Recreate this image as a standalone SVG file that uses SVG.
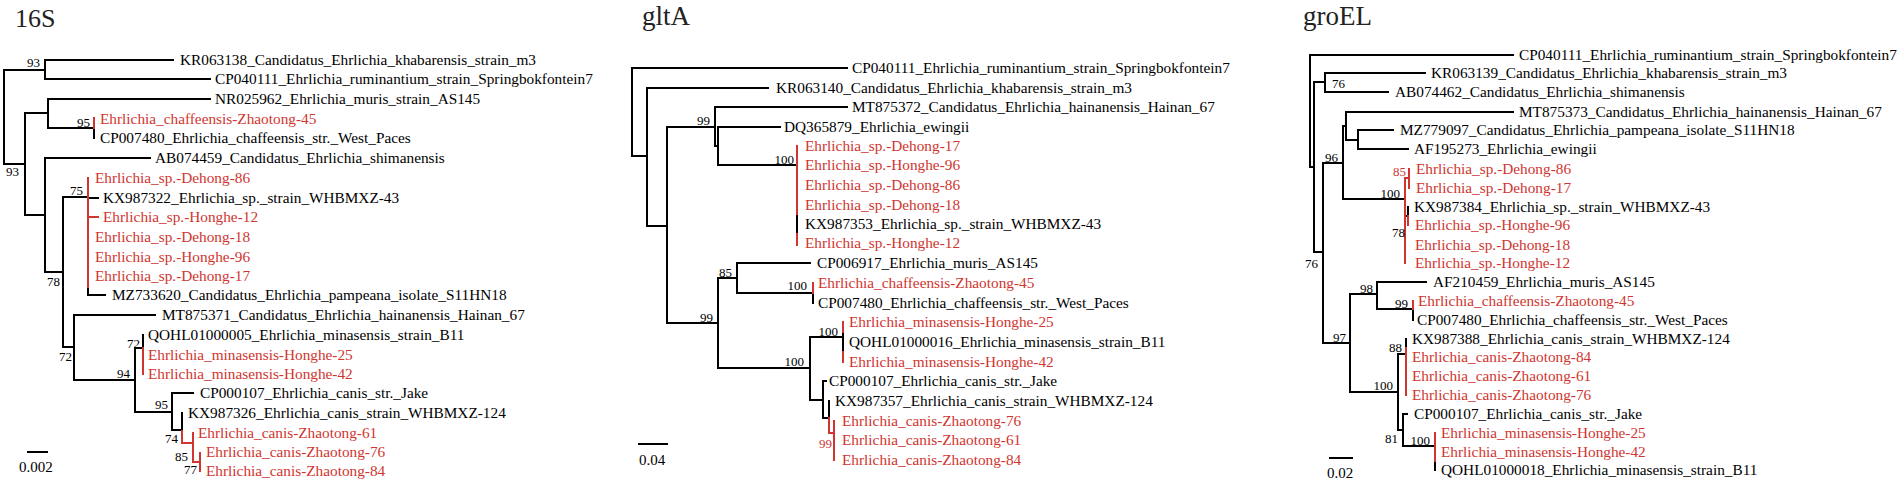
<svg xmlns="http://www.w3.org/2000/svg" width="1902" height="482" viewBox="0 0 1902 482">
<style>
.k{stroke:#000;stroke-width:2;fill:none;stroke-linecap:square}
.r{stroke:#d0352f;stroke-width:2;fill:none;stroke-linecap:square}
text{font-family:"Liberation Serif","Times New Roman",serif;fill:#000}
.l{font-size:15.3px}
.lr{font-size:15.3px;fill:#d0352f}
.s{font-size:13px;text-anchor:end}
.sr{font-size:13px;text-anchor:end;fill:#d0352f}
.t{font-size:27px;fill:#222}
.sc{font-size:15px}
</style>
<rect width="1902" height="482" fill="#fff"/>
<g id="titles">
<text class="t" x="15" y="27" style="font-size:26px">16S</text>
<text class="t" x="642" y="25">gltA</text>
<text class="t" x="1303" y="25">groEL</text>
</g>
<g id="connectors">
<!-- 16S -->
<path class="k" d="M4,70V164M4,70H45M45,60V79M45,60H173M45,79H210M4,164H25M25,113V215M25,113H48M48,99V128M48,99H210M48,128H94M94,128V138M25,215H45M45,158V272M45,158H150M45,272H63M63,197V347M63,197H88M88,287V295M88,295H105M88,198H98M63,347H74M74,315V380M74,315H155M74,380H135M135,348V412M135,348H143M143,335V348M135,412H172M172,393V430M172,393H193M172,430H182M182,413V431M28,452H47"/>
<path class="r" d="M94,118V128M88,178V287M88,217H98M143,348V374M182,431V443M182,443H193M193,433V462M193,462H200M200,453V471"/>
<!-- gltA -->
<path class="k" d="M632,68V156M632,68H847M632,156H647M647,88V226M647,88H768M647,226H667M667,127V323M667,127H715M715,107V146M715,107H847M715,146H718M718,127V165M718,127H780M718,165H797M797,214V234M667,323H718M718,278V368M718,278H737M737,263V293M737,263H810M737,293H813M813,293V303M718,368H810M810,337V400M810,337H843M843,332V352M810,400H823M823,381V418M823,381H826M823,418H829M829,401V418M639,444H667"/>
<path class="r" d="M797,146V214M797,234V245M813,283V293M843,322V332M843,352V362M829,418V433M829,433H834M834,421V460"/>
<!-- groEL -->
<path class="k" d="M1310,55V167M1310,55H1513M1310,167H1314M1314,82V252M1314,82H1325M1325,73V92M1325,73H1425M1325,92H1388M1314,252H1323M1323,163V343M1323,163H1343M1343,126V199M1343,126H1346M1346,112V140M1346,112H1513M1346,140H1358M1358,130V149M1358,130H1393M1358,149H1408M1343,199H1405M1405,216H1408M1408,207V216M1323,343H1350M1350,294V392M1350,294H1377M1377,282V309M1377,282H1426M1377,309H1413M1413,309V320M1350,392H1398M1398,354V430M1398,354H1406M1406,339V348M1398,430H1403M1403,414V446M1403,414H1407M1403,446H1435M1435,461V470M1330,458H1352"/>
<path class="r" d="M1405,178V263M1405,178H1409M1409,169V188M1408,216V225M1413,301V309M1406,348V395M1435,433V461"/>
</g>
<g id="panel-16S">
<g id="a1"><text class="l" x="180" y="65">KR063138_Candidatus_Ehrlichia_khabarensis_strain_m3</text></g>
<g id="a2"><text class="l" x="215" y="84">CP040111_Ehrlichia_ruminantium_strain_Springbokfontein7</text></g>
<g id="a3"><text class="l" x="215" y="104">NR025962_Ehrlichia_muris_strain_AS145</text></g>
<g id="a4"><text class="lr" x="100" y="124">Ehrlichia_chaffeensis-Zhaotong-45</text></g>
<g id="a5"><text class="l" x="100" y="143">CP007480_Ehrlichia_chaffeensis_str._West_Paces</text></g>
<g id="a6"><text class="l" x="155" y="163">AB074459_Candidatus_Ehrlichia_shimanensis</text></g>
<g id="a7"><text class="lr" x="95" y="183">Ehrlichia_sp.-Dehong-86</text></g>
<g id="a8"><text class="l" x="103" y="203">KX987322_Ehrlichia_sp._strain_WHBMXZ-43</text></g>
<g id="a9"><text class="lr" x="103" y="222">Ehrlichia_sp.-Honghe-12</text></g>
<g id="a10"><text class="lr" x="95" y="242">Ehrlichia_sp.-Dehong-18</text></g>
<g id="a11"><text class="lr" x="95" y="262">Ehrlichia_sp.-Honghe-96</text></g>
<g id="a12"><text class="lr" x="95" y="281">Ehrlichia_sp.-Dehong-17</text></g>
<g id="a13"><text class="l" x="112" y="300">MZ733620_Candidatus_Ehrlichia_pampeana_isolate_S11HN18</text></g>
<g id="a14"><text class="l" x="162" y="320">MT875371_Candidatus_Ehrlichia_hainanensis_Hainan_67</text></g>
<g id="a15"><text class="l" x="148" y="340">QOHL01000005_Ehrlichia_minasensis_strain_B11</text></g>
<g id="a16"><text class="lr" x="148" y="360">Ehrlichia_minasensis-Honghe-25</text></g>
<g id="a17"><text class="lr" x="148" y="379">Ehrlichia_minasensis-Honghe-42</text></g>
<g id="a18"><text class="l" x="200" y="398">CP000107_Ehrlichia_canis_str._Jake</text></g>
<g id="a19"><text class="l" x="188" y="418">KX987326_Ehrlichia_canis_strain_WHBMXZ-124</text></g>
<g id="a20"><text class="lr" x="198" y="438">Ehrlichia_canis-Zhaotong-61</text></g>
<g id="a21"><text class="lr" x="206" y="457">Ehrlichia_canis-Zhaotong-76</text></g>
<g id="a22"><text class="lr" x="206" y="476">Ehrlichia_canis-Zhaotong-84</text></g>
<g id="a-support">
<text class="s" x="40" y="67">93</text>
<text class="s" x="19" y="176">93</text>
<text class="s" x="90" y="127">95</text>
<text class="s" x="83" y="195">75</text>
<text class="s" x="60" y="286">78</text>
<text class="s" x="72" y="361">72</text>
<text class="s" x="140" y="348">72</text>
<text class="s" x="130" y="378">94</text>
<text class="s" x="168" y="409">95</text>
<text class="s" x="178" y="443">74</text>
<text class="s" x="188" y="461">85</text>
<text class="s" x="197" y="474">77</text>
</g>
<g id="a-scale"><text class="sc" x="19" y="472">0.002</text></g>
</g>
<g id="panel-gltA">
<g id="b1"><text class="l" x="852" y="73">CP040111_Ehrlichia_ruminantium_strain_Springbokfontein7</text></g>
<g id="b2"><text class="l" x="776" y="93">KR063140_Candidatus_Ehrlichia_khabarensis_strain_m3</text></g>
<g id="b3"><text class="l" x="852" y="112">MT875372_Candidatus_Ehrlichia_hainanensis_Hainan_67</text></g>
<g id="b4"><text class="l" x="784" y="132">DQ365879_Ehrlichia_ewingii</text></g>
<g id="b5"><text class="lr" x="805" y="151">Ehrlichia_sp.-Dehong-17</text></g>
<g id="b6"><text class="lr" x="805" y="170">Ehrlichia_sp.-Honghe-96</text></g>
<g id="b7"><text class="lr" x="805" y="190">Ehrlichia_sp.-Dehong-86</text></g>
<g id="b8"><text class="lr" x="805" y="210">Ehrlichia_sp.-Dehong-18</text></g>
<g id="b9"><text class="l" x="805" y="229">KX987353_Ehrlichia_sp._strain_WHBMXZ-43</text></g>
<g id="b10"><text class="lr" x="805" y="248">Ehrlichia_sp.-Honghe-12</text></g>
<g id="b11"><text class="l" x="817" y="268">CP006917_Ehrlichia_muris_AS145</text></g>
<g id="b12"><text class="lr" x="818" y="288">Ehrlichia_chaffeensis-Zhaotong-45</text></g>
<g id="b13"><text class="l" x="818" y="308">CP007480_Ehrlichia_chaffeensis_str._West_Paces</text></g>
<g id="b14"><text class="lr" x="849" y="327">Ehrlichia_minasensis-Honghe-25</text></g>
<g id="b15"><text class="l" x="849" y="347">QOHL01000016_Ehrlichia_minasensis_strain_B11</text></g>
<g id="b16"><text class="lr" x="849" y="367">Ehrlichia_minasensis-Honghe-42</text></g>
<g id="b17"><text class="l" x="829" y="386">CP000107_Ehrlichia_canis_str._Jake</text></g>
<g id="b18"><text class="l" x="835" y="406">KX987357_Ehrlichia_canis_strain_WHBMXZ-124</text></g>
<g id="b19"><text class="lr" x="842" y="426">Ehrlichia_canis-Zhaotong-76</text></g>
<g id="b20"><text class="lr" x="842" y="445">Ehrlichia_canis-Zhaotong-61</text></g>
<g id="b21"><text class="lr" x="842" y="465">Ehrlichia_canis-Zhaotong-84</text></g>
<g id="b-support">
<text class="s" x="710" y="125">99</text>
<text class="s" x="794" y="164">100</text>
<text class="s" x="732" y="277">85</text>
<text class="s" x="713" y="322">99</text>
<text class="s" x="807" y="290">100</text>
<text class="s" x="804" y="366">100</text>
<text class="s" x="838" y="336">100</text>
<text class="sr" x="832" y="448">99</text>
</g>
<g id="b-scale"><text class="sc" x="639" y="465">0.04</text></g>
</g>
<g id="panel-groEL">
<g id="c1"><text class="l" x="1519" y="60">CP040111_Ehrlichia_ruminantium_strain_Springbokfontein7</text></g>
<g id="c2"><text class="l" x="1431" y="78">KR063139_Candidatus_Ehrlichia_khabarensis_strain_m3</text></g>
<g id="c3"><text class="l" x="1395" y="97">AB074462_Candidatus_Ehrlichia_shimanensis</text></g>
<g id="c4"><text class="l" x="1519" y="117">MT875373_Candidatus_Ehrlichia_hainanensis_Hainan_67</text></g>
<g id="c5"><text class="l" x="1400" y="135">MZ779097_Candidatus_Ehrlichia_pampeana_isolate_S11HN18</text></g>
<g id="c6"><text class="l" x="1414" y="154">AF195273_Ehrlichia_ewingii</text></g>
<g id="c7"><text class="lr" x="1416" y="174">Ehrlichia_sp.-Dehong-86</text></g>
<g id="c8"><text class="lr" x="1416" y="193">Ehrlichia_sp.-Dehong-17</text></g>
<g id="c9"><text class="l" x="1414" y="212">KX987384_Ehrlichia_sp._strain_WHBMXZ-43</text></g>
<g id="c10"><text class="lr" x="1415" y="230">Ehrlichia_sp.-Honghe-96</text></g>
<g id="c11"><text class="lr" x="1415" y="250">Ehrlichia_sp.-Dehong-18</text></g>
<g id="c12"><text class="lr" x="1415" y="268">Ehrlichia_sp.-Honghe-12</text></g>
<g id="c13"><text class="l" x="1433" y="287">AF210459_Ehrlichia_muris_AS145</text></g>
<g id="c14"><text class="lr" x="1418" y="306">Ehrlichia_chaffeensis-Zhaotong-45</text></g>
<g id="c15"><text class="l" x="1417" y="325">CP007480_Ehrlichia_chaffeensis_str._West_Paces</text></g>
<g id="c16"><text class="l" x="1412" y="344">KX987388_Ehrlichia_canis_strain_WHBMXZ-124</text></g>
<g id="c17"><text class="lr" x="1412" y="362">Ehrlichia_canis-Zhaotong-84</text></g>
<g id="c18"><text class="lr" x="1412" y="381">Ehrlichia_canis-Zhaotong-61</text></g>
<g id="c19"><text class="lr" x="1412" y="400">Ehrlichia_canis-Zhaotong-76</text></g>
<g id="c20"><text class="l" x="1414" y="419">CP000107_Ehrlichia_canis_str._Jake</text></g>
<g id="c21"><text class="lr" x="1441" y="438">Ehrlichia_minasensis-Honghe-25</text></g>
<g id="c22"><text class="lr" x="1441" y="457">Ehrlichia_minasensis-Honghe-42</text></g>
<g id="c23"><text class="l" x="1441" y="475">QOHL01000018_Ehrlichia_minasensis_strain_B11</text></g>
<g id="c-support">
<text class="s" x="1345" y="88">76</text>
<text class="s" x="1338" y="162">96</text>
<text class="sr" x="1406" y="176">85</text>
<text class="s" x="1400" y="198">100</text>
<text class="s" x="1405" y="237">78</text>
<text class="s" x="1318" y="268">76</text>
<text class="s" x="1373" y="293">98</text>
<text class="s" x="1408" y="308">99</text>
<text class="s" x="1346" y="342">97</text>
<text class="s" x="1402" y="352">88</text>
<text class="s" x="1393" y="390">100</text>
<text class="s" x="1398" y="443">81</text>
<text class="s" x="1430" y="445">100</text>
</g>
<g id="c-scale"><text class="sc" x="1327" y="478">0.02</text></g>
</g>
</svg>
